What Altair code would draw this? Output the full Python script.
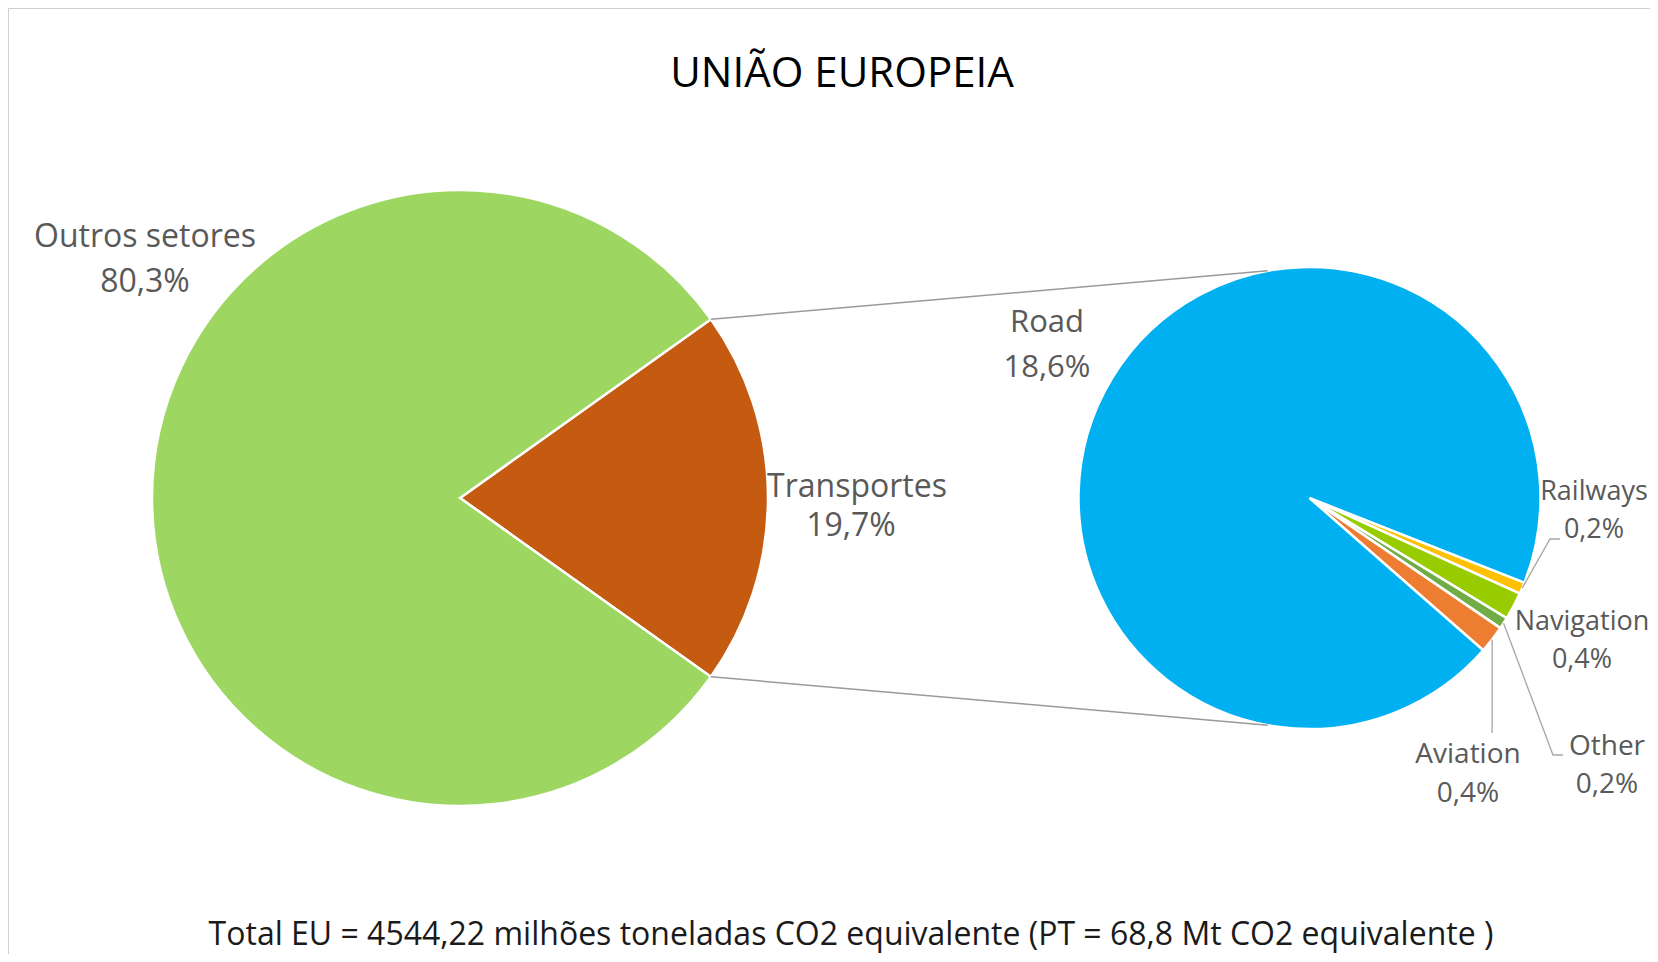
import math
import altair as alt
import pandas as pd

# ---------------- data ----------------
main_cats = ["Transportes", "Outros setores"]
main_vals = [19.7, 80.3]
main_colors = ["#C55A11", "#9DD661"]

sub_cats = ["Railways", "Navigation", "Other", "Aviation", "Road"]
sub_vals = [0.16, 0.38, 0.16, 0.38, 18.62]
sub_colors = ["#FFC000", "#99CC00", "#70AD47", "#ED7D31", "#00B0F0"]

title_text = "UNIÃO EUROPEIA"
footer_text = "Total EU = 4544,22 milhões toneladas CO2 equivalente (PT = 68,8 Mt CO2 equivalente )"

# ---------------- layout ----------------
W, H = 1642, 946
OFF = 8
FONT = "Open Sans"
LABEL_COLOR = "#595959"
L_CX, L_CY, L_R = 460 - OFF, 498 - OFF, 308
R_CX, R_CY, R_R = 1309.5 - OFF, 498 - OFF, 231
R_START_DEG = 111.5          # rotation of second pie
CONNECT_DEG = 10.4           # where connector lines touch second pie

# label anchor positions (page coords: name x, name baseline, pct baseline, font size, pct x)
LABEL_POS = {
    "Outros setores": (145, 247, 292, 32, 145),
    "Transportes": (857, 497, 536, 32, 851),
    "Road": (1047, 332, 377, 31, 1047),
    "Railways": (1594, 500, 538, 27, 1594),
    "Navigation": (1582, 630, 668, 27, 1582),
    "Other": (1607, 755, 793, 28, 1607),
    "Aviation": (1468, 763, 802, 28, 1468),
}
# leader line elbows (page coords)
LEADERS = {
    "Railways": [(1550, 539), (1560, 539)],
    "Other": [(1553, 755), (1563, 755)],
    "Aviation": [(None, 733)],
}


def fmt_pct(v):
    return f"{v:.1f}".replace(".", ",") + "%"


# ---------------- pies ----------------
main_share = main_vals[0] / sum(main_vals)
l_start = math.radians(90 - main_share * 360 / 2)
main_df = pd.DataFrame({"cat": main_cats, "v": main_vals, "ord": list(range(len(main_cats)))})
left_pie = alt.Chart(main_df).mark_arc(radius=L_R, stroke="white", strokeWidth=2.5).encode(
    theta=alt.Theta("v:Q", stack=True, scale=alt.Scale(range=[l_start, l_start + 2 * math.pi])),
    order=alt.Order("ord:Q"),
    color=alt.Color("cat:N", scale=alt.Scale(domain=main_cats, range=main_colors), legend=None),
    x=alt.value(L_CX),
    y=alt.value(L_CY),
)

r_start = math.radians(R_START_DEG)
sub_df = pd.DataFrame({"scat": sub_cats, "sv": sub_vals, "sord": list(range(len(sub_cats)))})
right_pie = alt.Chart(sub_df).mark_arc(radius=R_R, stroke="white", strokeWidth=2.5).encode(
    theta=alt.Theta("sv:Q", stack=True, scale=alt.Scale(range=[r_start, r_start + 2 * math.pi])),
    order=alt.Order("sord:Q"),
    color=alt.Color("scat:N", scale=alt.Scale(domain=sub_cats, range=sub_colors), legend=None),
    x=alt.value(R_CX),
    y=alt.value(R_CY),
)

# ---------------- connector lines ----------------
def pt(cx, cy, r, deg):
    a = math.radians(deg)
    return cx + r * math.sin(a), cy - r * math.cos(a)

deg_top = math.degrees(l_start)
deg_bot = deg_top + main_share * 360
p1 = pt(L_CX, L_CY, L_R, deg_top)
p2 = pt(L_CX, L_CY, L_R, deg_bot)
q1 = pt(R_CX, R_CY, R_R, 360 - CONNECT_DEG)
q2 = pt(R_CX, R_CY, R_R, 180 + CONNECT_DEG)
conn_df = pd.DataFrame({
    "x": [p1[0], p2[0]], "y": [p1[1], p2[1]],
    "x2": [q1[0], q2[0]], "y2": [q1[1], q2[1]],
})
connectors = alt.Chart(conn_df).mark_rule(color="#9a9a9a", strokeWidth=1.5).encode(
    x=alt.X("x:Q", scale=None), y=alt.Y("y:Q", scale=None),
    x2="x2:Q", y2="y2:Q",
)

# ---------------- leader lines ----------------
rows = []
total_sub = sum(sub_vals)
acc = 0.0
for c, v in zip(sub_cats, sub_vals):
    mid = R_START_DEG + (acc + v / 2) / total_sub * 360
    acc += v
    if c in LEADERS:
        sx, sy = pt(R_CX, R_CY, R_R, mid)
        pts = [(sx, sy)]
        for (ex, ey) in LEADERS[c]:
            pts.append((sx if ex is None else ex - OFF, ey - OFF))
        for k, (px, py) in enumerate(pts):
            rows.append({"id": c, "k": k, "x": px, "y": py})
lead_df = pd.DataFrame(rows)
leaders = alt.Chart(lead_df).mark_line(color="#a6a6a6", strokeWidth=1.3).encode(
    x=alt.X("x:Q", scale=None), y=alt.Y("y:Q", scale=None),
    detail="id:N", order="k:Q",
)

# ---------------- texts ----------------
trows = []
for c, v in list(zip(main_cats, main_vals)) + list(zip(sub_cats, sub_vals)):
    x1, y1, y2, fs, x2 = LABEL_POS[c]
    trows.append({"t": c, "x": x1 - OFF, "y": y1 - OFF, "fs": fs, "col": LABEL_COLOR})
    trows.append({"t": fmt_pct(v), "x": x2 - OFF, "y": y2 - OFF, "fs": fs, "col": LABEL_COLOR})
trows.append({"t": title_text, "x": 842 - OFF, "y": 87 - OFF, "fs": 42, "col": "#000000"})
trows.append({"t": footer_text, "x": 851 - OFF, "y": 945 - OFF, "fs": 32, "col": "#1a1a1a"})
text_df = pd.DataFrame(trows)
texts = alt.Chart(text_df).mark_text(font=FONT, align="center", baseline="alphabetic").encode(
    x=alt.X("x:Q", scale=None), y=alt.Y("y:Q", scale=None),
    text="t:N",
    size=alt.Size("fs:Q", scale=None),
    color=alt.Color("col:N", scale=None),
)

# ---------------- border (left & top) ----------------
border_df = pd.DataFrame({"x": [0.5, 0.5], "y": [0.5, 0.5], "x2": [0.5, W], "y2": [H, 0.5]})
border = alt.Chart(border_df).mark_rule(color="#d0d0d0", strokeWidth=1).encode(
    x=alt.X("x:Q", scale=None), y=alt.Y("y:Q", scale=None), x2="x2:Q", y2="y2:Q",
)

chart = alt.layer(border, left_pie, right_pie, connectors, leaders, texts).resolve_scale(
    theta="independent", color="independent"
).properties(
    width=W, height=H, padding=0, autosize=alt.AutoSizeParams(type="none"),
).configure_view(stroke=None)

chart.save("out.html", embed_options={"renderer": "svg", "actions": False})
